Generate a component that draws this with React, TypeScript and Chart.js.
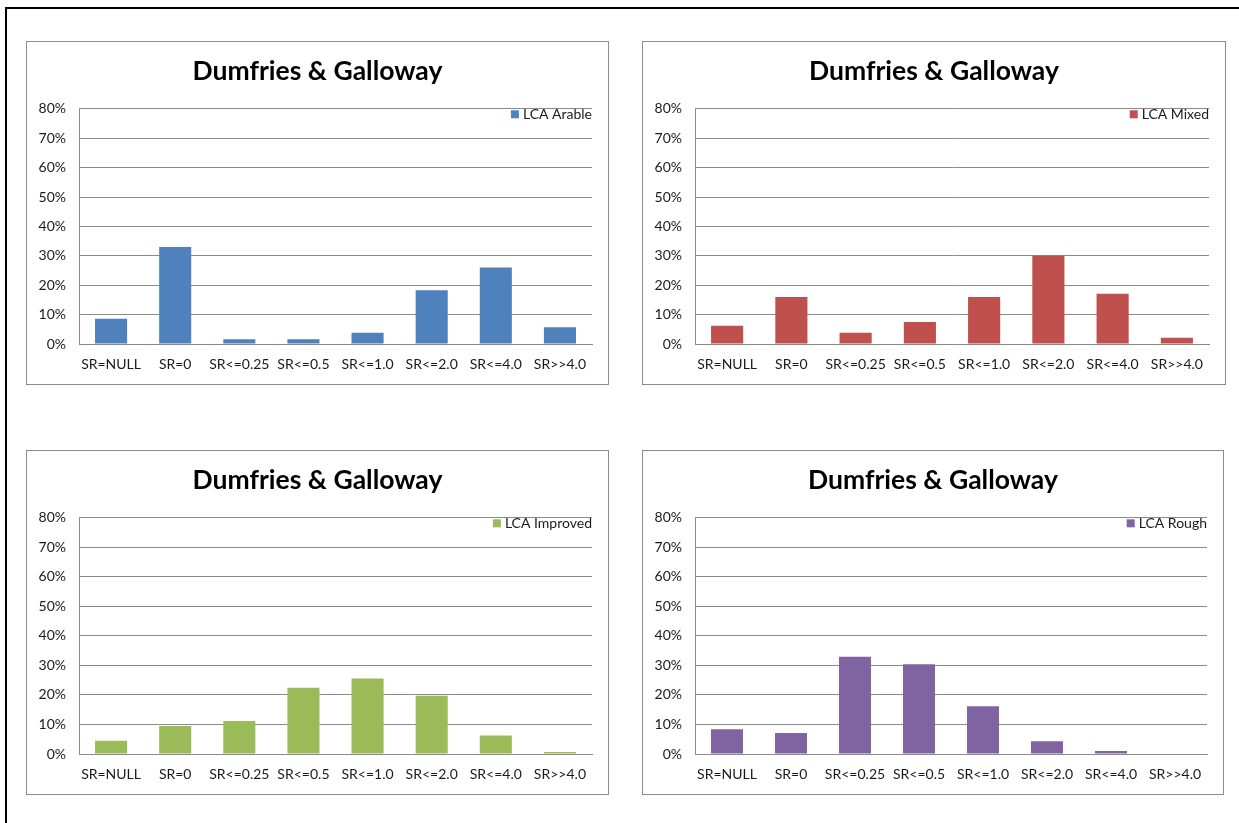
import React, { useEffect, useRef } from "react";
import { Chart, registerables } from "chart.js";

Chart.register(...registerables);

const TITLE = "Dumfries & Galloway";
const CATEGORIES = ["SR=NULL", "SR=0", "SR<=0.25", "SR<=0.5", "SR<=1.0", "SR<=2.0", "SR<=4.0", "SR>>4.0"];
const ARABLE = [8.6, 33.0, 1.6, 1.6, 3.8, 18.3, 26.0, 5.7];
const MIXED = [6.2, 16.0, 3.8, 7.5, 16.0, 30.0, 17.1, 2.1];
const IMPROVED = [4.5, 9.5, 11.2, 22.4, 25.6, 19.7, 6.3, 0.7];
const ROUGH = [8.4, 7.1, 32.9, 30.4, 16.2, 4.3, 1.0, 0];
const Y_MIN = 0;
const Y_MAX = 80;
const Y_STEP = 10;

const FONT = "Lato, 'Open Sans', sans-serif";
const TEXT = "#1a1a1a";

// Excel-style legend placed inside the plot area, top-right
const insideLegend = {
  id: "insideLegend",
  afterDraw(chart: any) {
    const ds = chart.data.datasets[0];
    const ctx = chart.ctx;
    const area = chart.chartArea;
    ctx.save();
    ctx.font = `14px ${FONT}`;
    const tw = ctx.measureText(ds.label).width;
    const y = area.top + 6;
    const textX = area.right - tw;
    ctx.fillStyle = ds.backgroundColor;
    ctx.fillRect(textX - 12, y - 4.5, 8, 8);
    ctx.fillStyle = TEXT;
    ctx.textBaseline = "middle";
    ctx.textAlign = "left";
    ctx.fillText(ds.label, textX, y);
    ctx.restore();
  },
};

type PanelProps = {
  label: string;
  data: number[];
  color: string;
  left: number;
  top: number;
  width: number;
  height: number;
};

function Panel({ label, data, color, left, top, width, height }: PanelProps) {
  const ref = useRef<HTMLCanvasElement | null>(null);
  const cw = width - 2;
  const ch = height - 2;
  useEffect(() => {
    if (!ref.current) return;
    const chart = new Chart(ref.current, {
      type: "bar",
      data: {
        labels: CATEGORIES,
        datasets: [
          {
            label,
            data,
            backgroundColor: color,
            borderWidth: 0,
            barPercentage: 0.5,
            categoryPercentage: 1,
          },
        ],
      },
      plugins: [insideLegend],
      options: {
        responsive: false,
        animation: false,
        layout: { padding: 0 },
        plugins: {
          title: {
            display: true,
            text: TITLE,
            color: "#000",
            font: { family: FONT, size: 26.5, weight: "bold", lineHeight: 1.2 },
            padding: { top: 14, bottom: 21 },
          },
          legend: { display: false },
          tooltip: { enabled: false },
        },
        scales: {
          x: {
            grid: { display: false, drawTicks: false },
            border: { display: true, color: "#8a8a8a", width: 1 },
            ticks: {
              color: TEXT,
              font: { family: FONT, size: 14 },
              padding: 12,
              maxRotation: 0,
              autoSkip: false,
            },
            afterFit: (s: any) => {
              s.height = 40;
            },
          },
          y: {
            min: Y_MIN,
            max: Y_MAX,
            grid: { color: "#8a8a8a", lineWidth: 1, drawTicks: false },
            border: { display: true, color: "#8a8a8a", width: 1 },
            ticks: {
              stepSize: Y_STEP,
              color: TEXT,
              font: { family: FONT, size: 14 },
              padding: 13,
              callback: (v: any) => `${v}%`,
            },
            afterFit: (s: any) => {
              s.width = 52;
            },
          },
          yRight: {
            position: "right",
            display: true,
            grid: { display: false, drawTicks: false },
            border: { display: false },
            ticks: { display: false },
            afterFit: (s: any) => {
              s.width = 16;
            },
          },
        },
      },
    });
    return () => chart.destroy();
  }, [label, data, color]);
  return (
    <div
      style={{
        position: "absolute",
        left,
        top,
        width,
        height,
        boxSizing: "border-box",
        border: "1px solid #8c8c8c",
        background: "#fff",
      }}
    >
      <canvas ref={ref} width={cw} height={ch} style={{ display: "block", width: cw, height: ch }} />
    </div>
  );
}

export default function App() {
  return (
    <div style={{ position: "absolute", left: 0, top: 0, width: 1239, height: 823, background: "#fff", overflow: "hidden" }}>
      <div
        style={{
          position: "absolute",
          left: 5,
          top: 7,
          width: 1300,
          height: 900,
          borderTop: "2px solid #000",
          borderLeft: "2px solid #000",
        }}
      />
      <Panel label="LCA Arable" data={ARABLE} color="#4F81BD" left={26} top={41} width={583} height={344} />
      <Panel label="LCA Mixed" data={MIXED} color="#C0504D" left={642} top={41} width={584} height={344} />
      <Panel label="LCA Improved" data={IMPROVED} color="#9BBB59" left={26} top={450} width={583} height={345} />
      <Panel label="LCA Rough" data={ROUGH} color="#8064A2" left={642} top={450} width={582} height={345} />
    </div>
  );
}
